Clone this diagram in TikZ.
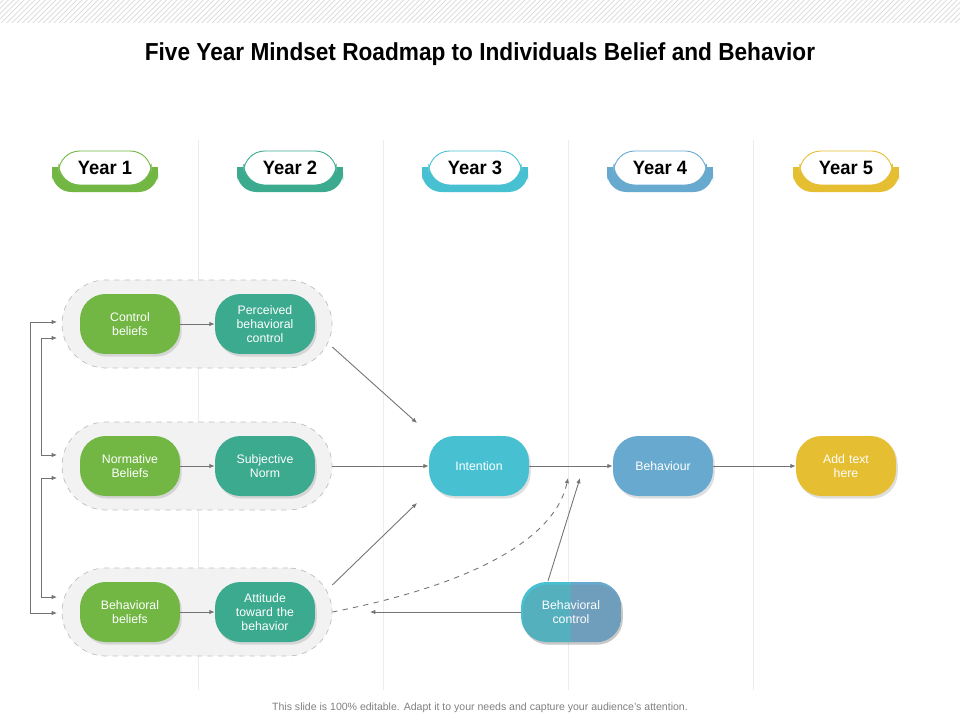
\documentclass[tikz,border=0pt]{standalone}
\usepackage{fontspec}
\setmainfont{Liberation Sans}
\usetikzlibrary{arrows.meta,shadows,patterns}
\tikzset{>=Latex}
\definecolor{cgreen}{HTML}{72B744}
\definecolor{cteal}{HTML}{3BAA8F}
\definecolor{ccyan}{HTML}{47C1D2}
\definecolor{cblue}{HTML}{68A9CF}
\definecolor{cyellow}{HTML}{E6BE32}
\tikzset{
  pill/.style={rounded corners=14.5pt,minimum width=2cm,minimum height=1.2cm,
    text width=1.7cm,align=center,text=white,font=\fontsize{7}{8}\selectfont,
    drop shadow={opacity=.25,shadow xshift=1pt,shadow yshift=-1.5pt}},
  group/.style={draw=gray!50,dashed,fill=gray!10,rounded corners=25pt,
    minimum width=5.4cm,minimum height=1.76cm},
  link/.style={->,gray!90!black,line width=.5pt,>={Latex[length=3pt,width=2.5pt]}},
  sep/.style={gray!15,line width=.4pt}
}
\begin{document}
\begin{tikzpicture}[x=0.02cm,y=-0.02cm]
\useasboundingbox (0,0) rectangle (960,720);
\fill[white] (0,0) rectangle (960,720);
\fill[pattern=north east lines,pattern color=gray!30] (0,0) rectangle (960,22);
\node[font=\fontsize{14}{16}\bfseries,xscale=.92] (title) at (480,54)
  {Five Year Mindset Roadmap to Individuals Belief and Behavior};

% separators
\foreach \x in {198,383,568,753}
  \draw[sep] (\x,140) -- (\x,690);

% year tabs
\foreach \x/\c/\n in {105/cgreen/1,290/cteal/2,475/ccyan/3,660/cblue/4,846/cyellow/5}{
  \fill[\c] (\x-53,167) rectangle (\x+53,176);
  \fill[\c,rounded corners=11pt] (\x-53,162) rectangle (\x+53,192);
  \node[draw=\c,line width=.5pt,fill=white,rounded corners=12pt,minimum width=1.95cm,
    minimum height=.68cm,font=\fontsize{11}{12}\bfseries,xscale=.95] (year\n) at (\x,168) {Year \n};
}

% groups
\node[group] (grpA) at (197,324) {};
\node[group] (grpB) at (197,466) {};
\node[group] (grpC) at (197,612) {};

% nodes
\node[pill,fill=cgreen] (ctrl) at (130,324) {Control\\beliefs};
\node[pill,fill=cteal] (pbc) at (265,324) {Perceived\\behavioral\\control};
\node[pill,fill=cgreen] (norm) at (130,466) {Normative\\Beliefs};
\node[pill,fill=cteal] (subj) at (265,466) {Subjective\\Norm};
\node[pill,fill=cgreen] (beh) at (130,612) {Behavioral\\beliefs};
\node[pill,fill=cteal] (att) at (265,612) {Attitude\\toward the\\behavior};
\node[pill,fill=ccyan] (intent) at (479,466) {Intention};
\node[pill,fill=cblue] (behav) at (663,466) {Behaviour};
\node[pill,fill=cyellow] (addtxt) at (846,466) {Add text\\here};
\node[pill,fill=ccyan] (bctrl) at (571,612) {};
\begin{scope}
  \clip[rounded corners=14.5pt] (bctrl.south west) rectangle (bctrl.north east);
  \fill[cblue] (bctrl.south) rectangle (bctrl.north east);
\end{scope}
\node[pill,drop shadow={opacity=0}] at (bctrl) {Behavioral\\control};

% connectors
\coordinate (pA) at (417,423);
\coordinate (pC) at (417,503);
\coordinate (pM) at (568,478);
\coordinate (pN) at (580,478);
\coordinate (pL) at (370,612);
\coordinate (pB) at (548,581);
\draw[link] (ctrl) -- (pbc);
\draw[link] (norm) -- (subj);
\draw[link] (beh) -- (att);
\draw[link] (grpA.east |- 0,347) -- (pA);
\draw[link] (grpB.east) -- (intent.west);
\draw[link] (grpC.east |- 0,585) -- (pC);
\draw[link] (intent) -- (behav);
\draw[link] (behav) -- (addtxt);
\draw[link] (pB) -- (pN);
\draw[link] (bctrl.west) -- (pL);
\draw[link,dashed] (grpC.east |- 0,612) .. controls (470,585) and (555,540) .. (pM);

% left feedback lines
\draw[link,<->] (57,613) -- (30,613) -- (30,322) -- (57,322);
\draw[link,<->] (57,338) -- (41,338) -- (41,455) -- (57,455);
\draw[link,<->] (57,478) -- (41,478) -- (41,597) -- (57,597);

\node[gray,font=\fontsize{6}{7}\selectfont] (foot) at (480,708)
  {This slide is 100\% editable. Adapt it to your needs and capture your audience's attention.};
\end{tikzpicture}
\end{document}
